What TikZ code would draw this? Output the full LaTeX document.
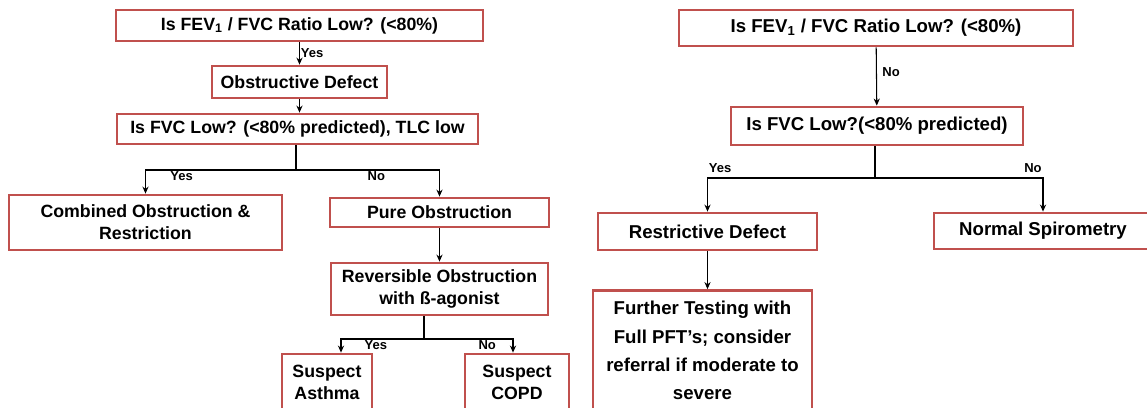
\documentclass[tikz,border=0pt]{standalone}
\usepackage{fontspec}
\setmainfont{Liberation Sans}
\usetikzlibrary{arrows.meta}
\definecolor{boxred}{RGB}{192,80,77}
\tikzset{
  box/.style={draw=boxred, line width=1.6pt, inner sep=0pt, align=center,
    font=\fontsize{10.1}{12.5}\selectfont\bfseries},
  rbox/.style={box, font=\fontsize{10.6}{12.8}\selectfont\bfseries},
  arr/.style={-{Stealth[length=4pt,width=3.5pt]}, line width=0.6pt},
  lbl/.style={font=\fontsize{7.4}{9}\selectfont\bfseries, inner sep=0.5pt},
}
\begin{document}
\begin{tikzpicture}[x=0.02cm,y=-0.02cm]
      \useasboundingbox (0,0) rectangle (1147,408);
      \clip (0,0) rectangle (1147,408);
      \fill[white] (0,0) rectangle (1147,408);
      % obstructive side
      \node[box, minimum width=7.34cm, minimum height=0.62cm] (l1) at (299.5,25.5) {Is FEV\textsubscript{1} / FVC Ratio Low? (<80\%)};
      \node[box, minimum width=3.5cm, minimum height=0.64cm] (l2) at (299.5,82) {Obstructive Defect};
      \node[box, minimum width=7.22cm, minimum height=0.6cm] (l3) at (297.5,129) {Is FVC Low? (<80\% predicted), TLC low};
      \node[box, minimum width=5.46cm, minimum height=1.1cm] (comb) at (145.5,222.5) {Combined Obstruction \&\\Restriction};
      \node[box, minimum width=4.38cm, minimum height=0.58cm] (pure) at (439.5,212.5) {Pure Obstruction};
      \node[box, minimum width=4.34cm, minimum height=1.04cm] (rev) at (439.5,289) {Reversible Obstruction\\with ß-agonist};
      \node[box, minimum width=1.8cm, minimum height=1.12cm] (asthma) at (327,382) {Suspect\\Asthma};
      \node[box, minimum width=2.08cm, minimum height=1.12cm] (copd) at (517,382) {Suspect\\COPD};
      \draw[arr] (l1) -- (l2) node[lbl, midway, right] (y1) {Yes};
      \draw[arr] (l2.south) -- (l2.south |- l3.north);
      \coordinate (j1) at (296,170);
      \draw[line width=0.6pt] (l3.south -| j1) -- (j1);
      \draw[arr] (j1) -| node[lbl, pos=0.38, below] (y2) {Yes} (comb.north);
      \draw[arr] (j1) -| node[lbl, pos=0.28, below] (n2) {No} (pure.north);
      \draw[arr] (pure) -- (rev);
      \coordinate (j2) at (424,339);
      \coordinate (ka) at (341,339);
      \coordinate (kc) at (513,339);
      \draw[line width=0.6pt] (rev.south -| j2) -- (j2);
      \draw[arr] (j2) -- node[lbl, pos=0.58, below] (y3) {Yes} (ka) -- (ka |- asthma.north);
      \draw[arr] (j2) -- node[lbl, pos=0.71, below] (n3) {No} (kc) -- (kc |- copd.north);
      % restrictive side
      \node[rbox, minimum width=7.88cm, minimum height=0.72cm] (r1) at (876,28) {Is FEV\textsubscript{1} / FVC Ratio Low? (<80\%)};
      \node[rbox, minimum width=5.84cm, minimum height=0.76cm] (r2) at (877,126) {Is FVC Low?(<80\% predicted)};
      \node[rbox, minimum width=4.38cm, minimum height=0.74cm] (restr) at (707.5,231.5) {Restrictive Defect};
      \node[rbox, minimum width=4.36cm, minimum height=0.72cm] (normal) at (1043,231) {Normal Spirometry};
      \node[rbox, minimum width=4.38cm, minimum height=2.4cm, font=\fontsize{10.6}{16.1}\selectfont\bfseries] (further) at (702.5,350.5) {Further Testing with\\Full PFT’s; consider\\referral if moderate to\\severe};
      \draw[arr] (r1) -- (r2) node[lbl, pos=0.43, right=2.6pt] (n4) {No};
      \coordinate (j3) at (875,178);
      \draw[line width=0.6pt] (r2.south -| j3) -- (j3);
      \draw[arr] (j3) -| node[lbl, pos=0.5, anchor=south west, yshift=2pt] (y5) {Yes} (restr.north);
      \draw[arr] (j3) -| node[lbl, pos=0.5, anchor=south east, yshift=2pt] (n5) {No} (normal.north);
      \draw[arr] (restr.south) -- (restr.south |- further.north);
\end{tikzpicture}
\end{document}
